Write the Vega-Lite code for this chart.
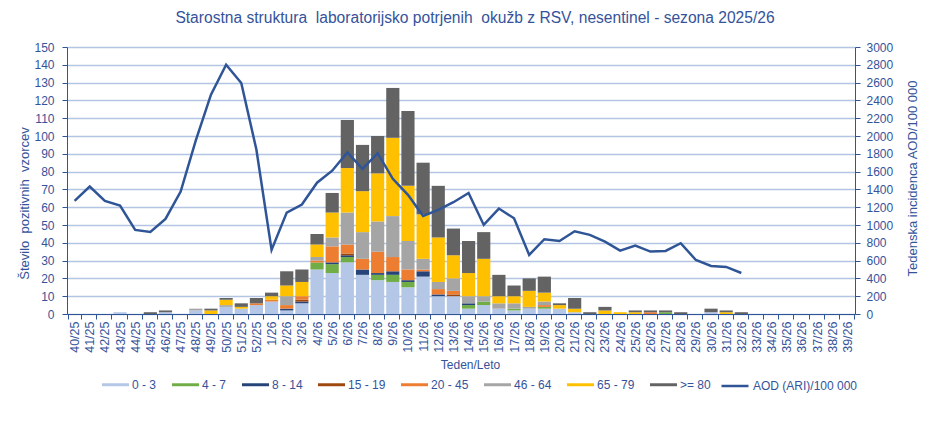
{
  "$schema": "https://vega.github.io/schema/vega-lite/v6.json",
  "width": 788,
  "height": 267,
  "autosize": "none",
  "padding": {"left": 67, "top": 47, "right": 96, "bottom": 120},
  "config": {
    "font": "Liberation Sans",
    "view": {"stroke": null},
    "axis": {
      "labelFont": "Liberation Sans",
      "titleFont": "Liberation Sans",
      "labelColor": "#35539A",
      "titleColor": "#35539A",
      "labelFontSize": 12,
      "titleFontSize": 13,
      "titleFontWeight": "normal",
      "domainColor": "#2F5597",
      "tickColor": "#2F5597",
      "tickSize": 5
    },
    "legend": {
      "labelFont": "Liberation Sans",
      "labelColor": "#35539A",
      "labelFontSize": 12
    }
  },
  "title": {
    "text": "Starostna struktura \u00a0laboratorijsko potrjenih \u00a0okužb z RSV, nesentinel - sezona 2025/26",
    "fontSize": 15.6,
    "fontWeight": "normal",
    "color": "#35539A",
    "anchor": "middle",
    "offset": 14,
    "dx": 14
  },
  "datasets": {
    "starost": [
      {"teden": "43/25", "skupina": "0 - 3", "n": 1},
      {"teden": "45/25", "skupina": ">= 80", "n": 1},
      {"teden": "46/25", "skupina": "0 - 3", "n": 1},
      {"teden": "46/25", "skupina": ">= 80", "n": 1},
      {"teden": "48/25", "skupina": "0 - 3", "n": 2},
      {"teden": "48/25", "skupina": "46 - 64", "n": 1},
      {"teden": "49/25", "skupina": "65 - 79", "n": 2},
      {"teden": "49/25", "skupina": ">= 80", "n": 1},
      {"teden": "50/25", "skupina": "0 - 3", "n": 4},
      {"teden": "50/25", "skupina": "46 - 64", "n": 1},
      {"teden": "50/25", "skupina": "65 - 79", "n": 3},
      {"teden": "50/25", "skupina": ">= 80", "n": 1},
      {"teden": "51/25", "skupina": "0 - 3", "n": 3},
      {"teden": "51/25", "skupina": "65 - 79", "n": 1},
      {"teden": "51/25", "skupina": ">= 80", "n": 2},
      {"teden": "52/25", "skupina": "0 - 3", "n": 5},
      {"teden": "52/25", "skupina": "20 - 45", "n": 1},
      {"teden": "52/25", "skupina": ">= 80", "n": 3},
      {"teden": "1/26", "skupina": "0 - 3", "n": 7},
      {"teden": "1/26", "skupina": "20 - 45", "n": 1},
      {"teden": "1/26", "skupina": "65 - 79", "n": 2},
      {"teden": "1/26", "skupina": ">= 80", "n": 2},
      {"teden": "2/26", "skupina": "0 - 3", "n": 2},
      {"teden": "2/26", "skupina": "8 - 14", "n": 1},
      {"teden": "2/26", "skupina": "20 - 45", "n": 2},
      {"teden": "2/26", "skupina": "46 - 64", "n": 5},
      {"teden": "2/26", "skupina": "65 - 79", "n": 6},
      {"teden": "2/26", "skupina": ">= 80", "n": 8},
      {"teden": "3/26", "skupina": "0 - 3", "n": 6},
      {"teden": "3/26", "skupina": "8 - 14", "n": 1},
      {"teden": "3/26", "skupina": "15 - 19", "n": 1},
      {"teden": "3/26", "skupina": "20 - 45", "n": 2},
      {"teden": "3/26", "skupina": "65 - 79", "n": 8},
      {"teden": "3/26", "skupina": ">= 80", "n": 7},
      {"teden": "4/26", "skupina": "0 - 3", "n": 25},
      {"teden": "4/26", "skupina": "4 - 7", "n": 4},
      {"teden": "4/26", "skupina": "20 - 45", "n": 1},
      {"teden": "4/26", "skupina": "46 - 64", "n": 2},
      {"teden": "4/26", "skupina": "65 - 79", "n": 7},
      {"teden": "4/26", "skupina": ">= 80", "n": 6},
      {"teden": "5/26", "skupina": "0 - 3", "n": 23},
      {"teden": "5/26", "skupina": "4 - 7", "n": 5},
      {"teden": "5/26", "skupina": "8 - 14", "n": 1},
      {"teden": "5/26", "skupina": "20 - 45", "n": 9},
      {"teden": "5/26", "skupina": "46 - 64", "n": 5},
      {"teden": "5/26", "skupina": "65 - 79", "n": 14},
      {"teden": "5/26", "skupina": ">= 80", "n": 11},
      {"teden": "6/26", "skupina": "0 - 3", "n": 29},
      {"teden": "6/26", "skupina": "4 - 7", "n": 3},
      {"teden": "6/26", "skupina": "8 - 14", "n": 1},
      {"teden": "6/26", "skupina": "15 - 19", "n": 1},
      {"teden": "6/26", "skupina": "20 - 45", "n": 5},
      {"teden": "6/26", "skupina": "46 - 64", "n": 18},
      {"teden": "6/26", "skupina": "65 - 79", "n": 25},
      {"teden": "6/26", "skupina": ">= 80", "n": 27},
      {"teden": "7/26", "skupina": "0 - 3", "n": 22},
      {"teden": "7/26", "skupina": "8 - 14", "n": 3},
      {"teden": "7/26", "skupina": "20 - 45", "n": 6},
      {"teden": "7/26", "skupina": "46 - 64", "n": 15},
      {"teden": "7/26", "skupina": "65 - 79", "n": 23},
      {"teden": "7/26", "skupina": ">= 80", "n": 26},
      {"teden": "8/26", "skupina": "0 - 3", "n": 19},
      {"teden": "8/26", "skupina": "4 - 7", "n": 3},
      {"teden": "8/26", "skupina": "8 - 14", "n": 1},
      {"teden": "8/26", "skupina": "20 - 45", "n": 12},
      {"teden": "8/26", "skupina": "46 - 64", "n": 17},
      {"teden": "8/26", "skupina": "65 - 79", "n": 27},
      {"teden": "8/26", "skupina": ">= 80", "n": 21},
      {"teden": "9/26", "skupina": "0 - 3", "n": 18},
      {"teden": "9/26", "skupina": "4 - 7", "n": 4},
      {"teden": "9/26", "skupina": "8 - 14", "n": 2},
      {"teden": "9/26", "skupina": "20 - 45", "n": 8},
      {"teden": "9/26", "skupina": "46 - 64", "n": 23},
      {"teden": "9/26", "skupina": "65 - 79", "n": 44},
      {"teden": "9/26", "skupina": ">= 80", "n": 28},
      {"teden": "10/26", "skupina": "0 - 3", "n": 15},
      {"teden": "10/26", "skupina": "4 - 7", "n": 3},
      {"teden": "10/26", "skupina": "8 - 14", "n": 1},
      {"teden": "10/26", "skupina": "20 - 45", "n": 6},
      {"teden": "10/26", "skupina": "46 - 64", "n": 16},
      {"teden": "10/26", "skupina": "65 - 79", "n": 31},
      {"teden": "10/26", "skupina": ">= 80", "n": 42},
      {"teden": "11/26", "skupina": "0 - 3", "n": 21},
      {"teden": "11/26", "skupina": "8 - 14", "n": 3},
      {"teden": "11/26", "skupina": "20 - 45", "n": 1},
      {"teden": "11/26", "skupina": "46 - 64", "n": 6},
      {"teden": "11/26", "skupina": "65 - 79", "n": 25},
      {"teden": "11/26", "skupina": ">= 80", "n": 29},
      {"teden": "12/26", "skupina": "0 - 3", "n": 10},
      {"teden": "12/26", "skupina": "8 - 14", "n": 1},
      {"teden": "12/26", "skupina": "20 - 45", "n": 3},
      {"teden": "12/26", "skupina": "46 - 64", "n": 4},
      {"teden": "12/26", "skupina": "65 - 79", "n": 25},
      {"teden": "12/26", "skupina": ">= 80", "n": 29},
      {"teden": "13/26", "skupina": "0 - 3", "n": 10},
      {"teden": "13/26", "skupina": "15 - 19", "n": 1},
      {"teden": "13/26", "skupina": "20 - 45", "n": 2},
      {"teden": "13/26", "skupina": "46 - 64", "n": 7},
      {"teden": "13/26", "skupina": "65 - 79", "n": 13},
      {"teden": "13/26", "skupina": ">= 80", "n": 15},
      {"teden": "14/26", "skupina": "0 - 3", "n": 3},
      {"teden": "14/26", "skupina": "4 - 7", "n": 2},
      {"teden": "14/26", "skupina": "8 - 14", "n": 1},
      {"teden": "14/26", "skupina": "46 - 64", "n": 4},
      {"teden": "14/26", "skupina": "65 - 79", "n": 13},
      {"teden": "14/26", "skupina": ">= 80", "n": 18},
      {"teden": "15/26", "skupina": "0 - 3", "n": 5},
      {"teden": "15/26", "skupina": "4 - 7", "n": 2},
      {"teden": "15/26", "skupina": "46 - 64", "n": 3},
      {"teden": "15/26", "skupina": "65 - 79", "n": 21},
      {"teden": "15/26", "skupina": ">= 80", "n": 15},
      {"teden": "16/26", "skupina": "0 - 3", "n": 3},
      {"teden": "16/26", "skupina": "46 - 64", "n": 3},
      {"teden": "16/26", "skupina": "65 - 79", "n": 4},
      {"teden": "16/26", "skupina": ">= 80", "n": 12},
      {"teden": "17/26", "skupina": "0 - 3", "n": 2},
      {"teden": "17/26", "skupina": "4 - 7", "n": 1},
      {"teden": "17/26", "skupina": "46 - 64", "n": 3},
      {"teden": "17/26", "skupina": "65 - 79", "n": 4},
      {"teden": "17/26", "skupina": ">= 80", "n": 6},
      {"teden": "18/26", "skupina": "0 - 3", "n": 3},
      {"teden": "18/26", "skupina": "46 - 64", "n": 1},
      {"teden": "18/26", "skupina": "65 - 79", "n": 9},
      {"teden": "18/26", "skupina": ">= 80", "n": 7},
      {"teden": "19/26", "skupina": "0 - 3", "n": 3},
      {"teden": "19/26", "skupina": "4 - 7", "n": 1},
      {"teden": "19/26", "skupina": "20 - 45", "n": 1},
      {"teden": "19/26", "skupina": "46 - 64", "n": 2},
      {"teden": "19/26", "skupina": "65 - 79", "n": 5},
      {"teden": "19/26", "skupina": ">= 80", "n": 9},
      {"teden": "20/26", "skupina": "0 - 3", "n": 3},
      {"teden": "20/26", "skupina": "65 - 79", "n": 2},
      {"teden": "20/26", "skupina": ">= 80", "n": 1},
      {"teden": "21/26", "skupina": "0 - 3", "n": 1},
      {"teden": "21/26", "skupina": "65 - 79", "n": 2},
      {"teden": "21/26", "skupina": ">= 80", "n": 6},
      {"teden": "22/26", "skupina": ">= 80", "n": 1},
      {"teden": "23/26", "skupina": "65 - 79", "n": 2},
      {"teden": "23/26", "skupina": ">= 80", "n": 2},
      {"teden": "24/26", "skupina": "65 - 79", "n": 1},
      {"teden": "25/26", "skupina": "65 - 79", "n": 1},
      {"teden": "25/26", "skupina": ">= 80", "n": 1},
      {"teden": "26/26", "skupina": "20 - 45", "n": 1},
      {"teden": "26/26", "skupina": ">= 80", "n": 1},
      {"teden": "27/26", "skupina": "4 - 7", "n": 1},
      {"teden": "27/26", "skupina": ">= 80", "n": 1},
      {"teden": "28/26", "skupina": ">= 80", "n": 1},
      {"teden": "30/26", "skupina": "0 - 3", "n": 1},
      {"teden": "30/26", "skupina": ">= 80", "n": 2},
      {"teden": "31/26", "skupina": "65 - 79", "n": 1},
      {"teden": "31/26", "skupina": ">= 80", "n": 1},
      {"teden": "32/26", "skupina": ">= 80", "n": 1}
    ],
    "aod": [
      {"teden": "40/25", "aod": 1271},
      {"teden": "41/25", "aod": 1432},
      {"teden": "42/25", "aod": 1271},
      {"teden": "43/25", "aod": 1219},
      {"teden": "44/25", "aod": 945},
      {"teden": "45/25", "aod": 922},
      {"teden": "46/25", "aod": 1069},
      {"teden": "47/25", "aod": 1376},
      {"teden": "48/25", "aod": 1950},
      {"teden": "49/25", "aod": 2464},
      {"teden": "50/25", "aod": 2801},
      {"teden": "51/25", "aod": 2595},
      {"teden": "52/25", "aod": 1845},
      {"teden": "1/26", "aod": 720},
      {"teden": "2/26", "aod": 1140},
      {"teden": "3/26", "aod": 1230},
      {"teden": "4/26", "aod": 1475},
      {"teden": "5/26", "aod": 1610},
      {"teden": "6/26", "aod": 1815},
      {"teden": "7/26", "aod": 1631},
      {"teden": "8/26", "aod": 1807},
      {"teden": "9/26", "aod": 1519},
      {"teden": "10/26", "aod": 1339},
      {"teden": "11/26", "aod": 1102},
      {"teden": "12/26", "aod": 1170},
      {"teden": "13/26", "aod": 1256},
      {"teden": "14/26", "aod": 1360},
      {"teden": "15/26", "aod": 1001},
      {"teden": "16/26", "aod": 1185},
      {"teden": "17/26", "aod": 1076},
      {"teden": "18/26", "aod": 664},
      {"teden": "19/26", "aod": 840},
      {"teden": "20/26", "aod": 821},
      {"teden": "21/26", "aod": 930},
      {"teden": "22/26", "aod": 889},
      {"teden": "23/26", "aod": 814},
      {"teden": "24/26", "aod": 712},
      {"teden": "25/26", "aod": 769},
      {"teden": "26/26", "aod": 701},
      {"teden": "27/26", "aod": 709},
      {"teden": "28/26", "aod": 795},
      {"teden": "29/26", "aod": 607},
      {"teden": "30/26", "aod": 540},
      {"teden": "31/26", "aod": 529},
      {"teden": "32/26", "aod": 461}
    ]
  },
  "encoding": {
    "x": {
      "field": "teden",
      "type": "ordinal",
      "title": "Teden/Leto",
      "scale": {
        "domain": ["40/25", "41/25", "42/25", "43/25", "44/25", "45/25", "46/25", "47/25", "48/25", "49/25", "50/25", "51/25", "52/25",
                   "1/26", "2/26", "3/26", "4/26", "5/26", "6/26", "7/26", "8/26", "9/26", "10/26", "11/26", "12/26", "13/26",
                   "14/26", "15/26", "16/26", "17/26", "18/26", "19/26", "20/26", "21/26", "22/26", "23/26", "24/26", "25/26", "26/26",
                   "27/26", "28/26", "29/26", "30/26", "31/26", "32/26", "33/26", "34/26", "35/26", "36/26", "37/26", "38/26", "39/26"],
        "paddingInner": 0.13,
        "paddingOuter": 0.065
      },
      "axis": {
        "labelAngle": 270,
        "labelAlign": "right",
        "labelBaseline": "middle",
        "labelPadding": 2,
        "labelFontSize": 12.5,
        "tickBand": "extent",
        "titleFontSize": 12,
        "titlePadding": 7,
        "titleX": 403,
        "grid": false
      }
    }
  },
  "layer": [
    {
      "data": {"name": "starost"},
      "transform": [
        {
          "calculate": "indexof(['0 - 3', '4 - 7', '8 - 14', '15 - 19', '20 - 45', '46 - 64', '65 - 79', '>= 80'], datum.skupina)",
          "as": "red"
        }
      ],
      "mark": {"type": "bar"},
      "encoding": {
        "y": {
          "field": "n",
          "type": "quantitative",
          "aggregate": "sum",
          "stack": "zero",
          "title": "Število \u00a0pozitivnih \u00a0vzorcev",
          "scale": {"domain": [0, 150], "nice": false},
          "axis": {
            "orient": "left",
            "tickCount": 15,
            "format": "d",
            "grid": true,
            "gridColor": "#B4C5E4",
            "gridWidth": 1.3,
            "labelPadding": 8,
            "titlePadding": 2,
            "titleY": 156
          }
        },
        "order": {"field": "red", "type": "quantitative", "sort": "ascending"},
        "color": {
          "field": "skupina",
          "type": "nominal",
          "scale": {
            "domain": ["0 - 3", "4 - 7", "8 - 14", "15 - 19", "20 - 45", "46 - 64", "65 - 79", ">= 80"],
            "range": ["#B4C7E7", "#70AD47", "#264478", "#9E480E", "#ED7D31", "#A5A5A5", "#FFC000", "#636363"]
          },
          "legend": {
            "title": null,
            "orient": "none",
            "direction": "horizontal",
            "legendX": 35,
            "legendY": 324,
            "symbolType": "M-1,-0.11H1V0.11H-1Z",
            "symbolSize": 729,
            "symbolStrokeWidth": 0,
            "labelOffset": 3,
            "columnPadding": 15
          }
        }
      }
    },
    {
      "data": {"name": "aod"},
      "mark": {"type": "line", "strokeWidth": 2.5},
      "encoding": {
        "y": {
          "field": "aod",
          "type": "quantitative",
          "title": "Tedenska incidenca AOD/100 000",
          "scale": {"domain": [0, 3000], "nice": false},
          "axis": {
            "orient": "right",
            "tickCount": 15,
            "format": "d",
            "grid": false,
            "labelPadding": 6,
            "titleAngle": 270,
            "titlePadding": 27,
            "titleY": 131
          }
        },
        "stroke": {
          "datum": "AOD (ARI)/100 000",
          "scale": {"range": ["#2F5597"]},
          "legend": {
            "title": null,
            "orient": "none",
            "legendX": 653,
            "legendY": 324,
            "symbolType": "stroke",
            "symbolSize": 729,
            "symbolStrokeWidth": 2.5,
            "labelOffset": 3
          }
        }
      }
    }
  ],
  "resolve": {"scale": {"y": "independent"}}
}
